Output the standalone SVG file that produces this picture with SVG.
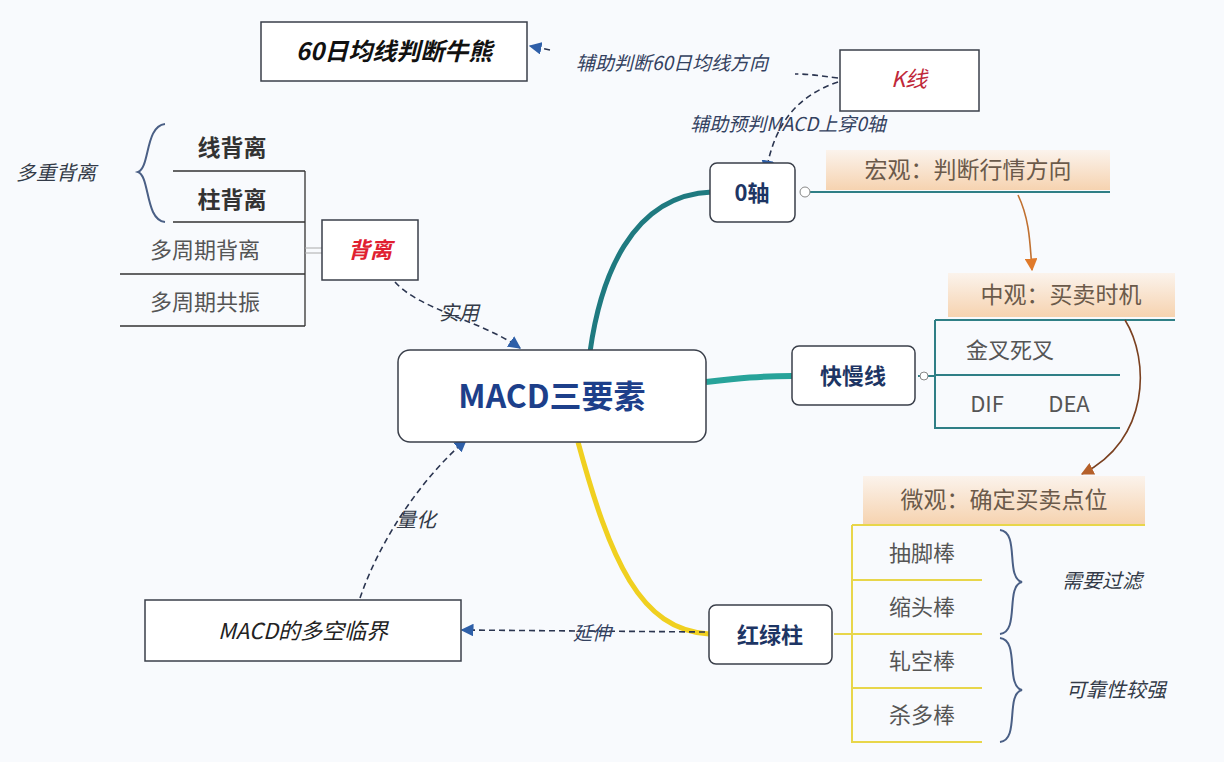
<svg xmlns="http://www.w3.org/2000/svg" width="1224" height="762" viewBox="0 0 1224 762">
<defs>
<style>
text{font-family:"Noto Sans CJK SC","Liberation Sans",sans-serif;}
.box{fill:#fff;stroke:#3a3f4a;stroke-width:1.5}
.it{font-style:italic;fill:#333a48;font-size:20px}
.lab{font-style:italic;fill:#33415f;font-size:19px}
.item{fill:#555;font-size:22px}
.dash{fill:none;stroke:#2b3550;stroke-width:1.6;stroke-dasharray:6 4}
.thin{stroke:#333;stroke-width:1.3;fill:none}
.yl{stroke:#e8d64a;stroke-width:2;fill:none}
.tl{stroke:#2f7f86;stroke-width:2;fill:none}
.brace{fill:none;stroke:#4a5f85;stroke-width:2}
.peach{fill:url(#pg)}
.ptxt{fill:#6b5a4a;font-size:23px}
</style>
<linearGradient id="pg" x1="0" y1="0" x2="0" y2="1"><stop offset="0" stop-color="#fbf3ec"/><stop offset="1" stop-color="#f6d3b0"/></linearGradient>
<marker id="ab" viewBox="0 0 10 10" refX="9" refY="5" markerWidth="8" markerHeight="8" orient="auto-start-reverse"><path d="M0,0L10,5L0,10z" fill="#2e5fa8"/></marker>
<marker id="ao" viewBox="0 0 10 10" refX="9" refY="5" markerWidth="8" markerHeight="8" orient="auto"><path d="M0,0L10,5L0,10z" fill="#e07a2a"/></marker>
<marker id="ar" viewBox="0 0 10 10" refX="9" refY="5" markerWidth="8" markerHeight="8" orient="auto"><path d="M0,0L10,5L0,10z" fill="#b5602a"/></marker>
</defs>
<rect width="1224" height="762" fill="#f8fafd"/>
<g id="connectors">
<path d="M590,352 C600,280 630,195 712,192" stroke="#1f7a80" stroke-width="5" fill="none"/>
<path d="M706,382 C740,378 760,376 792,376" stroke="#27a39a" stroke-width="6" fill="none"/>
<path d="M578,442 C610,560 640,630 709,634" stroke="#f0d020" stroke-width="5" fill="none"/>
<path d="M838,78 C820,76 810,74 795,74" class="dash"/>
<path d="M550,50 L530,46" class="dash" marker-end="url(#ab)"/>
<path d="M838,82 C800,95 775,120 766,172" class="dash" marker-end="url(#ab)"/>
<path d="M395,282 C420,310 480,320 520,348" class="dash" marker-end="url(#ab)"/>
<path d="M705,632 L462,630" class="dash" marker-end="url(#ab)"/>
<path d="M360,598 C380,540 420,480 466,440" class="dash" marker-end="url(#ab)"/>
<path d="M800,192 L1110,192" class="tl"/>
<circle cx="805" cy="192" r="5" fill="#fff" stroke="#888"/>
<path d="M1018,195 C1030,220 1030,245 1032,270" stroke="#c07030" stroke-width="1.6" fill="none" marker-end="url(#ao)"/>
<path d="M918,376 L935,376" class="tl"/>
<circle cx="924" cy="376" r="4" fill="#fff" stroke="#888"/>
<path d="M935,320 L1175,320 M935,320 L935,428 L1120,428 M935,375 L1120,375" class="tl"/>
<path d="M1125,320 C1150,360 1150,440 1082,474" stroke="#7a4020" stroke-width="1.6" fill="none" marker-end="url(#ar)"/>
<path d="M834,634 L852,634" class="yl"/>
<path d="M852,525 L1145,525 M852,525 L852,742 L982,742 M852,580 L982,580 M852,634 L982,634 M852,688 L982,688" class="yl"/>
<path d="M305,171 L305,326 M173,171 L305,171 M173,222 L305,222 M120,274 L305,274 M120,326 L305,326" class="thin"/>
<path d="M305,248 L322,248 M305,253 L322,253" stroke="#aaa" stroke-width="1"/>
<path d="M165,124 C145,126 150,168 138,172 C150,176 145,220 165,222" class="brace"/>
<path d="M1000,530 C1020,532 1005,578 1022,582 C1005,586 1020,632 1000,634" class="brace"/>
<path d="M1000,638 C1020,640 1005,686 1022,690 C1005,694 1020,740 1000,742" class="brace"/>
</g>
<g id="n60"><rect x="261" y="22" width="266" height="59" class="box"/><text x="394" y="60" text-anchor="middle" font-size="24" font-weight="bold" font-style="italic" fill="#111">60日均线判断牛熊</text></g>
<g id="nK"><rect x="840" y="50" width="139" height="61" class="box"/><text x="909" y="87" text-anchor="middle" font-size="22" font-style="italic" fill="#c0283a">K线</text></g>
<g id="lbl1"><text x="672" y="70" text-anchor="middle" class="lab">辅助判断60日均线方向</text></g>
<g id="lbl2"><text x="788" y="131" text-anchor="middle" class="lab">辅助预判MACD上穿0轴</text></g>
<g id="n0"><rect x="710" y="163" width="85" height="59" rx="7" class="box"/><text x="752" y="201" text-anchor="middle" font-size="22" font-weight="bold" fill="#1d3564">0轴</text></g>
<g id="nMacro"><rect x="826" y="150" width="284" height="40" class="peach"/><text x="968" y="178" text-anchor="middle" class="ptxt">宏观：判断行情方向</text></g>
<g id="nMid"><rect x="948" y="273" width="227" height="44" class="peach"/><text x="1061" y="303" text-anchor="middle" class="ptxt">中观：买卖时机</text></g>
<g id="nFS"><rect x="792" y="346" width="123" height="59" rx="7" class="box"/><text x="853" y="384" text-anchor="middle" font-size="22" font-weight="bold" fill="#1d3564">快慢线</text></g>
<g id="nJC"><text x="1010" y="358" text-anchor="middle" class="item">金叉死叉</text></g>
<g id="nDIF"><text x="987" y="412" text-anchor="middle" class="item">DIF</text><text x="1069" y="412" text-anchor="middle" class="item">DEA</text></g>
<g id="nMicro"><rect x="863" y="476" width="282" height="48" class="peach"/><text x="1004" y="508" text-anchor="middle" class="ptxt">微观：确定买卖点位</text></g>
<g id="nHL"><rect x="709" y="605" width="123" height="59" rx="7" class="box"/><text x="770" y="643" text-anchor="middle" font-size="22" font-weight="bold" fill="#1d3564">红绿柱</text></g>
<g id="nB1"><text x="922" y="561" text-anchor="middle" class="item">抽脚棒</text></g>
<g id="nB2"><text x="922" y="615" text-anchor="middle" class="item">缩头棒</text></g>
<g id="nB3"><text x="922" y="669" text-anchor="middle" class="item">轧空棒</text></g>
<g id="nB4"><text x="922" y="723" text-anchor="middle" class="item">杀多棒</text></g>
<g id="nF1"><text x="1102" y="588" text-anchor="middle" class="it">需要过滤</text></g>
<g id="nF2"><text x="1116" y="697" text-anchor="middle" class="it">可靠性较强</text></g>
<g id="nMain"><rect x="398" y="350" width="308" height="92" rx="12" class="box"/><text x="552" y="408" text-anchor="middle" font-size="32" font-weight="bold" fill="#1d3f8a">MACD三要素</text></g>
<g id="nCrit"><rect x="145" y="600" width="316" height="61" class="box"/><text x="303" y="639" text-anchor="middle" font-size="22" font-style="italic" fill="#222">MACD的多空临界</text></g>
<g id="lbl3"><text x="592" y="640" text-anchor="middle" class="lab">延伸</text></g>
<g id="lbl4"><text x="416" y="527" text-anchor="middle" class="it" font-size="22">量化</text></g>
<g id="lbl5"><text x="459" y="320" text-anchor="middle" class="it" font-size="22">实用</text></g>
<g id="nBL"><rect x="322" y="220" width="96" height="60" class="box"/><text x="370" y="258" text-anchor="middle" font-size="22" font-weight="bold" font-style="italic" fill="#e02030">背离</text></g>
<g id="nL1"><text x="232" y="156" text-anchor="middle" font-size="23" font-weight="bold" fill="#333">线背离</text></g>
<g id="nL2"><text x="232" y="208" text-anchor="middle" font-size="23" font-weight="bold" fill="#333">柱背离</text></g>
<g id="nL3"><text x="205" y="258" text-anchor="middle" class="item">多周期背离</text></g>
<g id="nL4"><text x="205" y="310" text-anchor="middle" class="item">多周期共振</text></g>
<g id="nMulti"><text x="56" y="180" text-anchor="middle" class="it">多重背离</text></g>
</svg>
